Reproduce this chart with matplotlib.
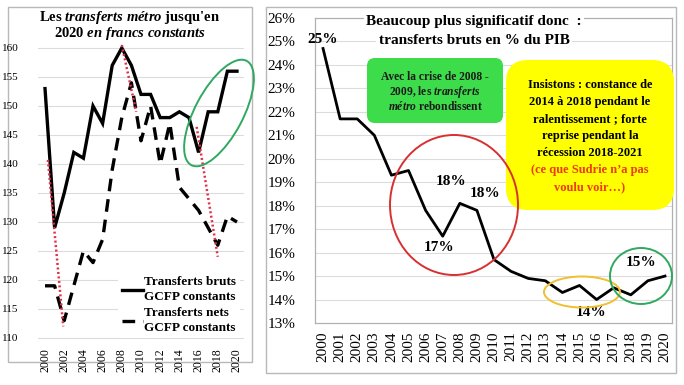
import matplotlib
matplotlib.use("Agg")
import matplotlib.pyplot as plt
import matplotlib.transforms as mtransforms
from matplotlib.patches import Ellipse, FancyBboxPatch, Rectangle
from matplotlib.lines import Line2D

# ---------------- data ----------------
years = list(range(2000, 2021))
bruts_const = [153, 129, 135, 142, 141, 150, 147, 157, 160, 157, 152,
               152, 148, 148, 149, 148, 142, 149, 149, 156, 156]
nets_const = [119, 119, 113, 119, 125, 123, 127, 139, 148, 154, 144,
              150, 140, 147, 136, 134, 132, 129, 126, 131, 130]
bruts_pib = [24.7, 21.7, 21.7, 21.0, 19.3, 19.5, 17.8, 16.7, 18.1, 17.8, 15.7,
             15.2, 14.9, 14.8, 14.3, 14.6, 14.0, 14.5, 14.2, 14.8, 15.0]
# red dotted trend segments on left chart (year, value)
trend_segments = [((2000.3, 140.7), (2001.9, 112.0)),
                  ((2008.0, 160.5), (2009.5, 149.0)),
                  ((2015.8, 146.4), (2018.0, 124.0))]
left_yticks = [110, 115, 120, 125, 130, 135, 140, 145, 150, 155, 160]
left_xticks = list(range(2000, 2021, 2))
right_yticks = list(range(13, 27))
# value labels on right chart: (text, x, y)
pib_labels = [("25%", 2000.0, 25.1), ("18%", 2007.5, 19.05), ("18%", 2009.45, 18.5),
              ("17%", 2006.8, 16.2), ("14%", 2015.7, 13.43), ("15%", 2018.6, 15.6)]

W, H = 684, 385
plt.rcParams['font.family'] = ['Liberation Serif', 'DejaVu Serif']
plt.rcParams['mathtext.fontset'] = 'custom'
plt.rcParams['mathtext.rm'] = 'Liberation Serif:bold'
plt.rcParams['mathtext.it'] = 'Liberation Serif:italic:bold'
plt.rcParams['mathtext.bf'] = 'Liberation Serif:bold'

fig = plt.figure(figsize=(W / 100, H / 100), dpi=100)
fig.patch.set_facecolor('white')
ptr = mtransforms.Affine2D().scale(1, -1).translate(0, H)  # image pixel coords


def ax_at(l, t, r, b):
    return fig.add_axes([l / W, 1 - b / H, (r - l) / W, (b - t) / H])


# panel borders
for (x0, y0, x1, y1) in [(8, 7, 252, 362), (266, 7, 676, 373)]:
    fig.add_artist(Rectangle((x0, y0), x1 - x0, y1 - y0, transform=ptr, fill=False,
                             edgecolor='#b8b8b8', lw=1.0, zorder=-5))

GRID = '#dcdcdc'

# ---------------- left chart ----------------
axL = ax_at(38.3, 42.2, 243.7, 343.8)
axL.set_xlim(1999.3, 2020.7)
axL.set_ylim(109, 161)
axL.set_facecolor('none')
for s in axL.spines.values():
    s.set_visible(False)
for v in left_yticks:
    axL.axhline(v, color=GRID, lw=0.8, zorder=0)
l1, = axL.plot(years, bruts_const, color='black', lw=2.4, solid_joinstyle='miter',
               zorder=3, clip_on=False)
l2, = axL.plot(years, nets_const, color='black', lw=2.4, dashes=(3.8, 2.4),
               zorder=3, clip_on=False)
for (a, b) in trend_segments:
    axL.plot([a[0], b[0]], [a[1], b[1]], color='#e0304a', lw=1.8, ls=(0, (0.8, 1.0)),
             zorder=4, clip_on=False)
axL.set_yticks(left_yticks)
axL.set_yticklabels([str(v) for v in left_yticks], fontsize=8)
axL.set_xticks(left_xticks)
axL.set_xticklabels([str(v) for v in left_xticks], rotation=90, fontsize=8.5)
axL.tick_params(axis='both', length=0)
axL.tick_params(axis='y', pad=14)
axL.tick_params(axis='x', pad=3)

leg = axL.legend([l1, l2], ["Transferts bruts\nGCFP constants", "Transferts nets\nGCFP constants"],
                 loc='lower right', bbox_to_anchor=((247) / W, 1 - 345 / H),
                 bbox_transform=fig.transFigure, frameon=True, facecolor='white',
                 edgecolor='none', framealpha=1, handlelength=1.6, handletextpad=0.1,
                 borderpad=0.3, labelspacing=0.3, prop={'weight': 'bold', 'size': 9.5})
leg.set_zorder(5)
for t in leg.get_texts():
    t.set_linespacing(1.35)

fig.text(130, 17, "Les $\\mathit{transferts\\ métro}$ jusqu'en", transform=ptr,
         ha='center', va='center', fontsize=10.5, fontweight='bold')
fig.text(130, 34, "2020 $\\mathit{en\\ francs\\ constants}$", transform=ptr,
         ha='center', va='center', fontsize=10.5, fontweight='bold')

# green tilted ellipse on left chart
fig.add_artist(Ellipse((219, 113), 118, 48, angle=-62, transform=ptr, fill=False,
                       edgecolor='#2fa860', lw=1.4, zorder=6))

# ---------------- right chart ----------------
axR = ax_at(315, 18, 672, 323)
axR.set_xlim(1999.53, 2020.41)
axR.set_ylim(13, 26)
axR.set_facecolor('none')
for s in axR.spines.values():
    s.set_color('#b0b0b0')
    s.set_linewidth(0.9)
for v in right_yticks[1:-1]:
    axR.axhline(v, color=GRID, lw=0.8, zorder=0)
axR.plot(years, bruts_pib, color='black', lw=2.0, zorder=3)
axR.set_yticks(right_yticks)
axR.set_yticklabels([f"{v}%" for v in right_yticks], fontsize=11)
axR.set_xticks(years)
axR.set_xticklabels([str(v) for v in years], rotation=90, fontsize=11)
axR.tick_params(axis='both', length=0)
axR.tick_params(axis='y', pad=14)
axR.tick_params(axis='x', pad=6)

for (txt, x, y) in pib_labels:
    bb = dict(facecolor='white', edgecolor='none', pad=0.5) if txt == "14%" and x > 2015 else None
    axR.text(x, y, txt, ha='center', va='center', fontsize=11, fontweight='bold',
             zorder=8, bbox=bb)

fig.text(474, 22, "Beaucoup plus significatif donc  :", transform=ptr, ha='center',
         va='center', fontsize=11, fontweight='bold', zorder=7,
         bbox=dict(facecolor='white', edgecolor='none', pad=1.5))
fig.text(474, 40, "transferts bruts en % du PIB", transform=ptr, ha='center',
         va='center', fontsize=11, fontweight='bold', zorder=7,
         bbox=dict(facecolor='white', edgecolor='none', pad=1.5))

# green box
fig.add_artist(FancyBboxPatch((367, 58), 136, 65, transform=ptr,
                              boxstyle="round,pad=0,rounding_size=8",
                              facecolor='#3ddc4a', edgecolor='none', zorder=6))
fig.text(435, 77, "Avec la crise de 2008 -", transform=ptr, ha='center', va='center',
         fontsize=8.3, fontweight='bold', color='#1a1a1a', zorder=7)
fig.text(435, 92, "2009, les $\\mathit{transferts}$", transform=ptr, ha='center', va='center',
         fontsize=8.3, fontweight='bold', color='#1a1a1a', zorder=7)
fig.text(435, 107, "$\\mathit{métro}$ rebondissent", transform=ptr, ha='center', va='center',
         fontsize=8.3, fontweight='bold', color='#1a1a1a', zorder=7)

# yellow box
fig.add_artist(FancyBboxPatch((506, 60), 168, 150, transform=ptr,
                              boxstyle="round,pad=0,rounding_size=22",
                              facecolor='#ffff00', edgecolor='none', zorder=6))
ylines = [("Insistons : constance de", 'black'), ("2014 à 2018 pendant le", 'black'),
          ("ralentissement ; forte", 'black'), ("reprise pendant la", 'black'),
          ("récession 2018-2021", 'black'), ("(ce que Sudrie n\u2019a pas", '#ee3b10'),
          ("voulu voir\u2026)", '#ee3b10')]
for i, (s, c) in enumerate(ylines):
    fig.text(590, 85 + i * 17, s, transform=ptr, ha='center', va='center',
             fontsize=9, fontweight='bold', color=c, zorder=7)

# ellipses on right chart
fig.add_artist(Ellipse((454, 205), 128, 140, transform=ptr, fill=False,
                       edgecolor='#d83030', lw=1.4, zorder=6))
fig.add_artist(Ellipse((582, 292), 76, 31, transform=ptr, fill=False,
                       edgecolor='#f0c030', lw=1.4, zorder=6))
fig.add_artist(Ellipse((641, 276), 62, 56, transform=ptr, fill=False,
                       edgecolor='#2fa860', lw=1.4, zorder=6))

fig.savefig("out.png", dpi=100, facecolor='white')
